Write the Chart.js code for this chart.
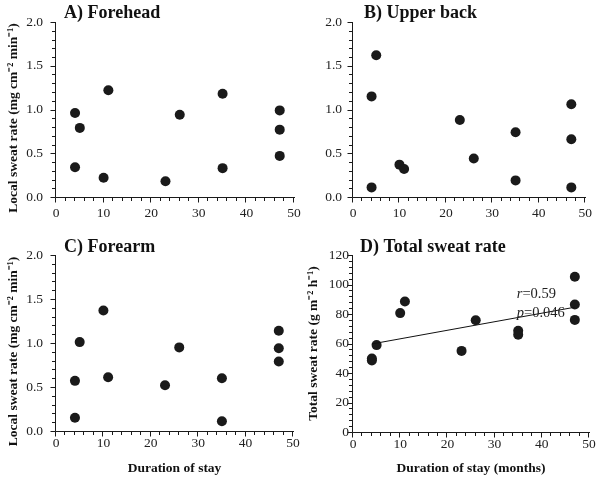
<!DOCTYPE html>
<html>
<head>
<meta charset="utf-8">
<script src="https://cdn.jsdelivr.net/npm/chart.js@4/dist/chart.umd.min.js"></script>
<style>
  html, body { margin: 0; padding: 0; background: #fff; }
  #wrap { position: relative; width: 600px; height: 479px; background: #fff; overflow: hidden; }
  #wrap canvas { position: absolute; left: 0; top: 0; }
</style>
</head>
<body>
<div id="wrap">
  <canvas id="cA" width="600" height="479"></canvas>
  <canvas id="cB" width="600" height="479"></canvas>
  <canvas id="cC" width="600" height="479"></canvas>
  <canvas id="cD" width="600" height="479"></canvas>
</div>
<script>
// ---------------- DATA ----------------
const panelTitles = ["A) Forehead", "B) Upper back", "C) Forearm", "D) Total sweat rate"];
const localYTitle = "Local sweat rate (mg cm\u207B\u00B2 min\u207B\u00B9)     ";
const totalYTitle = "Total sweat rate (g m\u207B\u00B2 h\u207B\u00B9)";
const xTitleC = "Duration of stay";
const xTitleD = "Duration of stay (months)";

// Duration of stay (months) for each subject
const foreheadX = [4, 4, 5, 10, 11, 23, 26, 35, 35, 47, 47, 47];
const foreheadY = [0.96, 0.34, 0.79, 0.22, 1.22, 0.18, 0.94, 1.18, 0.33, 0.99, 0.77, 0.47];

const upperBackX = [4, 4, 5, 10, 11, 23, 26, 35, 35, 47, 47, 47];
const upperBackY = [1.15, 0.11, 1.62, 0.37, 0.32, 0.88, 0.44, 0.74, 0.19, 1.06, 0.66, 0.11];

const forearmX = [4, 4, 5, 10, 11, 23, 26, 35, 35, 47, 47, 47];
const forearmY = [0.57, 0.15, 1.01, 1.37, 0.61, 0.52, 0.95, 0.60, 0.11, 1.14, 0.94, 0.79];

const totalX = [4, 4, 5, 10, 11, 23, 26, 35, 35, 47, 47, 47];
const totalY = [49.8, 48.5, 58.9, 80.6, 88.5, 55.0, 75.8, 68.6, 65.9, 105.3, 86.5, 76.0];

// regression line endpoints
const fitX = [4, 47];
const fitY = [59.7, 84.6];
const statR = "0.59";
const statP = "0.046";
const statPos = { x: 34.7, yR: 93.5, yP: 80.5 };

// ---------------- STYLE ----------------
const SERIF = '"Liberation Serif", "Times New Roman", Times, serif';
const INK = '#1a1a1a';

function pts(xs, ys) { return xs.map((x, i) => ({ x: x, y: ys[i] })); }

const panelInfo = {
  cA: { title: panelTitles[0], titleX: 64, titleY: 13, fit: false, xMajor: 10, xMinor: 2, yMajor: 0.5, yMinor: 0.1 },
  cB: { title: panelTitles[1], titleX: 364, titleY: 13, fit: false, xMajor: 10, xMinor: 2, yMajor: 0.5, yMinor: 0.1 },
  cC: { title: panelTitles[2], titleX: 64, titleY: 247, fit: false, xMajor: 10, xMinor: 2, yMajor: 0.5, yMinor: 0.1 },
  cD: { title: panelTitles[3], titleX: 360, titleY: 247, fit: true, xMajor: 10, xMinor: 2, yMajor: 20, yMinor: 4 }
};

// draws axis lines with outward major/minor ticks, panel title and annotations
const axesPlugin = {
  id: 'axesPlugin',
  afterDraw(chart) {
    const ctx = chart.ctx;
    const ca = chart.chartArea;
    const xs = chart.scales.x, ys = chart.scales.y;
    const info = panelInfo[chart.canvas.id];
    if (!info) return;
    const L = Math.round(ca.left) - 0.5;
    const B = Math.round(ca.bottom) + 0.5;
    ctx.save();
    ctx.strokeStyle = '#1a1a1a';
    ctx.lineWidth = 1;
    ctx.beginPath();
    ctx.moveTo(L, Math.round(ca.top));
    ctx.lineTo(L, B);
    ctx.lineTo(Math.round(ca.right) + 1, B);
    ctx.stroke();

    ctx.beginPath();
    const nx = Math.round((xs.max - xs.min) / info.xMinor);
    for (let i = 0; i <= nx; i++) {
      const v = xs.min + i * info.xMinor;
      const px = Math.round(xs.getPixelForValue(v)) - 0.5;
      const major = Math.abs(v / info.xMajor - Math.round(v / info.xMajor)) < 1e-6;
      ctx.moveTo(px, B);
      ctx.lineTo(px, B + (major ? 5 : 3.5));
    }
    const ny = Math.round((ys.max - ys.min) / info.yMinor);
    for (let i = 0; i <= ny; i++) {
      const v = ys.min + i * info.yMinor;
      const py = Math.round(ys.getPixelForValue(v)) + 0.5;
      const major = Math.abs(v / info.yMajor - Math.round(v / info.yMajor)) < 1e-6;
      ctx.moveTo(L, py);
      ctx.lineTo(L - (major ? 5 : 3.5), py);
    }
    ctx.stroke();

    // panel title
    ctx.fillStyle = '#111';
    ctx.font = 'bold 18px ' + SERIF;
    ctx.textBaseline = 'middle';
    ctx.textAlign = 'left';
    ctx.fillText(info.title, info.titleX, info.titleY);

    // statistics annotation
    if (info.fit) {
      const x0 = xs.getPixelForValue(statPos.x);
      const drawStat = (letter, val, yv) => {
        const py = ys.getPixelForValue(yv);
        ctx.font = 'italic 14.5px ' + SERIF;
        ctx.fillStyle = '#222';
        ctx.fillText(letter, x0, py);
        const w = ctx.measureText(letter).width;
        ctx.font = '14.5px ' + SERIF;
        ctx.fillText('=' + val, x0 + w, py);
      };
      drawStat('r', statR, statPos.yR);
      drawStat('p', statP, statPos.yP);
    }
    ctx.restore();
  }
};

function makePanel(id, cfg) {
  const datasets = [{
    type: 'scatter',
    data: pts(cfg.xs, cfg.ys),
    backgroundColor: INK,
    borderColor: INK,
    pointRadius: 5,
    pointHoverRadius: 5,
    borderWidth: 0,
    order: 1
  }];
  if (cfg.fit) {
    datasets.push({
      type: 'line',
      data: pts(fitX, fitY),
      borderColor: '#111',
      borderWidth: 1,
      pointRadius: 0,
      fill: false,
      tension: 0,
      order: 0
    });
  }
  const a = cfg.area;
  new Chart(document.getElementById(id), {
    type: 'scatter',
    data: { datasets: datasets },
    options: {
      responsive: false,
      animation: false,
      devicePixelRatio: 1,
      layout: {
        padding: {
          left: a.l - cfg.yw,
          top: a.t,
          right: 600 - a.r,
          bottom: 479 - a.b - cfg.xh
        }
      },
      plugins: {
        legend: { display: false },
        tooltip: { enabled: false }
      },
      scales: {
        x: {
          type: 'linear',
          min: 0, max: 50,
          grid: { display: false, drawTicks: false },
          border: { display: false },
          ticks: {
            stepSize: 10,
            padding: cfg.xPad,
            color: '#222',
            font: { family: SERIF, size: 13.5 },
            maxRotation: 0
          },
          title: {
            display: !!cfg.xTitle,
            text: cfg.xTitle || '',
            color: '#111',
            font: { family: SERIF, size: 13.5, weight: 'bold' },
            padding: { top: 0, bottom: 1 }
          },
          afterFit(s) { s.height = cfg.xh; }
        },
        y: {
          type: 'linear',
          min: 0, max: cfg.yMax,
          grid: { display: false, drawTicks: false },
          border: { display: false },
          ticks: {
            stepSize: cfg.yStep,
            padding: cfg.yPad,
            color: '#222',
            font: { family: SERIF, size: 13.5 },
            callback: (v) => cfg.yDec ? Number(v).toFixed(cfg.yDec) : String(v)
          },
          title: {
            display: !!cfg.yTitle,
            text: cfg.yTitle || '',
            color: '#111',
            font: { family: SERIF, size: 13.5, weight: 'bold' },
            padding: { top: cfg.yTitlePad || 0, bottom: 0 }
          },
          afterFit(s) { s.width = cfg.yw; }
        }
      }
    },
    plugins: [axesPlugin]
  });
}

makePanel('cA', {
  xs: foreheadX, ys: foreheadY,
  area: { l: 56, t: 22, r: 294, b: 197 }, yw: 56, xh: 30, xPad: 8, yPad: 13,
  yMax: 2, yStep: 0.5, yDec: 1, yTitle: localYTitle, yTitlePad: 5
});
makePanel('cB', {
  xs: upperBackX, ys: upperBackY,
  area: { l: 353, t: 22, r: 590, b: 197 }, yw: 40, xh: 30, xPad: 8, yPad: 11,
  yMax: 2, yStep: 0.5, yDec: 1
});
makePanel('cC', {
  xs: forearmX, ys: forearmY,
  area: { l: 56, t: 255, r: 293, b: 431 }, yw: 56, xh: 47, xPad: 4, yPad: 13,
  yMax: 2, yStep: 0.5, yDec: 1, yTitle: localYTitle, yTitlePad: 5,
  xTitle: xTitleC
});
makePanel('cD', {
  xs: totalX, ys: totalY,
  area: { l: 353, t: 255, r: 589, b: 432 }, yw: 48, xh: 46, xPad: 4, yPad: 4,
  yMax: 120, yStep: 20, yDec: 0, yTitle: totalYTitle, yTitlePad: 0,
  xTitle: xTitleD, fit: true
});
</script>
</body>
</html>
